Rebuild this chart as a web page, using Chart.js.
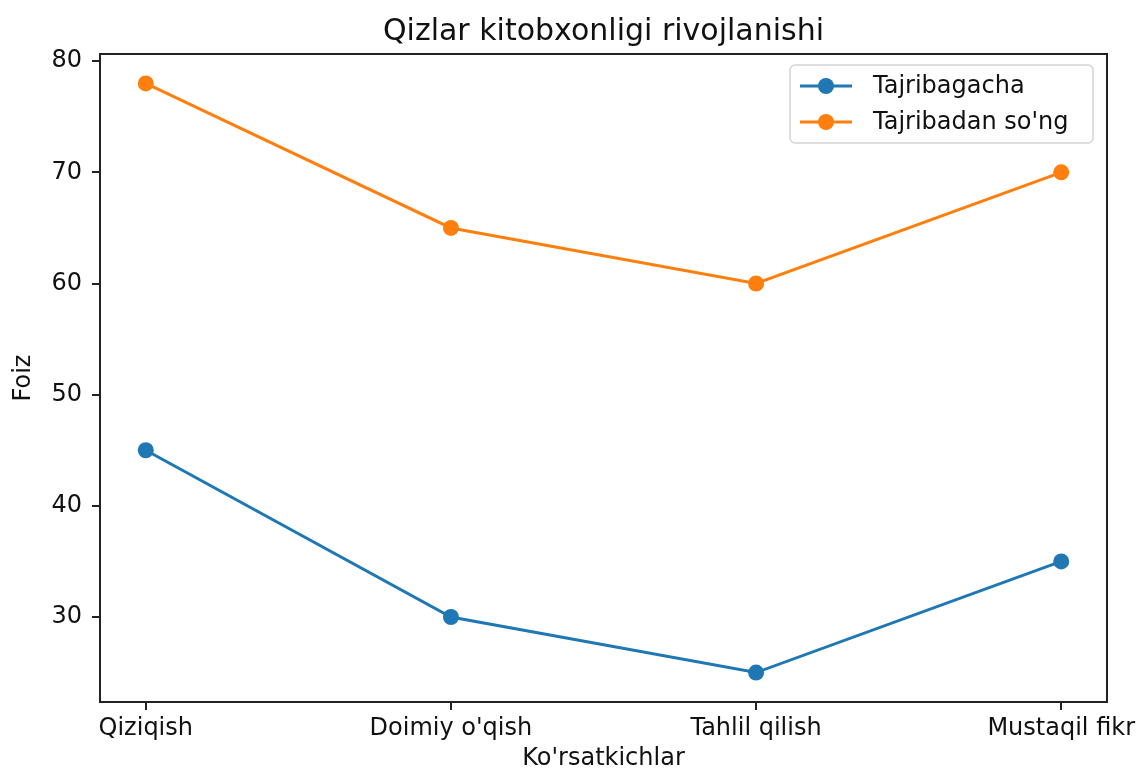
<!DOCTYPE html>
<html>
<head>
<meta charset="utf-8">
<script src="https://cdn.jsdelivr.net/npm/chart.js@4/dist/chart.umd.min.js"></script>
<style>
  html, body { margin: 0; padding: 0; background: #fff; }
  #wrap { width: 1143px; height: 769px; }
</style>
</head>
<body>
<div id="wrap"><canvas id="chart" width="1143" height="769"></canvas></div>
<script>
const categories = ["Qiziqish", "Doimiy o'qish", "Tahlil qilish", "Mustaqil fikr"];
const beforeValues = [45, 30, 25, 35];
const afterValues = [78, 65, 60, 70];
const yTicks = [30, 40, 50, 60, 70, 80];
const seriesNames = ["Tajribagacha", "Tajribadan so'ng"];
const seriesColors = ["#1f77b4", "#ff7f0e"];
const chartTitle = "Qizlar kitobxonligi rivojlanishi";

const fontFamily = "'DejaVu Sans', sans-serif";
const textColor = "#111";

const toPoints = (values) => values.map((y, i) => ({ x: i, y }));

// title centred over the plot area, like matplotlib's ax.set_title
const plotTitlePlugin = {
  id: "plotTitle",
  afterDraw(chart) {
    const { ctx, chartArea: a } = chart;
    ctx.save();
    ctx.fillStyle = textColor;
    ctx.font = `30px ${fontFamily}`;
    ctx.textAlign = "center";
    ctx.textBaseline = "alphabetic";
    ctx.fillText(chartTitle, (a.left + a.right) / 2, a.top - 14);
    ctx.restore();
  },
};

// draws the black frame round the plot area (all four spines)
const framePlugin = {
  id: "frame",
  afterDatasetsDraw(chart) {
    const { ctx, chartArea: a } = chart;
    ctx.save();
    ctx.strokeStyle = "#222";
    ctx.lineWidth = 2;
    ctx.strokeRect(a.left, a.top, a.right - a.left, a.bottom - a.top);
    ctx.restore();
  },
};

// matplotlib-like legend box inside the upper right corner
const insideLegendPlugin = {
  id: "insideLegend",
  afterDraw(chart) {
    const { ctx, chartArea: a } = chart;
    const boxW = 303;
    const boxH = 78;
    const x0 = a.right - 14 - boxW;
    const y0 = a.top + 11;
    ctx.save();
    ctx.beginPath();
    ctx.roundRect(x0, y0, boxW, boxH, 5);
    ctx.fillStyle = "rgba(255,255,255,0.85)";
    ctx.fill();
    ctx.strokeStyle = "#d4d4d4";
    ctx.lineWidth = 1.5;
    ctx.stroke();
    chart.data.datasets.forEach((ds, i) => {
      const y = y0 + 21 + i * 36;
      ctx.strokeStyle = ds.borderColor;
      ctx.lineWidth = 3;
      ctx.beginPath();
      ctx.moveTo(x0 + 10, y);
      ctx.lineTo(x0 + 62, y);
      ctx.stroke();
      ctx.fillStyle = ds.borderColor;
      ctx.beginPath();
      ctx.arc(x0 + 36, y, 8, 0, Math.PI * 2);
      ctx.fill();
      ctx.fillStyle = textColor;
      ctx.font = `24px ${fontFamily}`;
      ctx.textBaseline = "middle";
      ctx.textAlign = "left";
      ctx.fillText(ds.label, x0 + 83, y + 1);
    });
    ctx.restore();
  },
};

const datasets = [beforeValues, afterValues].map((values, i) => ({
  label: seriesNames[i],
  data: toPoints(values),
  borderColor: seriesColors[i],
  backgroundColor: seriesColors[i],
  borderWidth: 3,
  pointRadius: 8,
  pointHoverRadius: 8,
  pointBorderWidth: 0,
  tension: 0,
  fill: false,
}));

const chart = new Chart(document.getElementById("chart"), {
  type: "line",
  data: { datasets },
  plugins: [framePlugin, insideLegendPlugin, plotTitlePlugin],
  options: {
    responsive: false,
    animation: false,
    layout: { padding: { left: 0, right: 36, top: 54, bottom: 0 } },
    plugins: {
      legend: { display: false },
      tooltip: { enabled: false },
      title: { display: false },
    },
    scales: {
      x: {
        type: "linear",
        min: -0.15,
        max: 3.15,
        afterFit: (scale) => {
          scale.height = 67;
        },
        afterBuildTicks: (scale) => {
          scale.ticks = categories.map((c, i) => ({ value: i }));
        },
        ticks: {
          color: textColor,
          font: { family: fontFamily, size: 24 },
          padding: 4,
          maxRotation: 0,
          autoSkip: false,
          callback: (value) => categories[value] ?? "",
        },
        grid: {
          drawOnChartArea: false,
          drawTicks: true,
          tickLength: 8,
          color: "#222",
          lineWidth: 2,
        },
        border: { display: false },
        title: {
          display: true,
          text: "Ko'rsatkichlar",
          color: textColor,
          font: { family: fontFamily, size: 24 },
          padding: { top: 0, bottom: -4 },
        },
      },
      y: {
        min: 22.35,
        max: 80.65,
        afterFit: (scale) => {
          scale.width = 100;
        },
        afterBuildTicks: (scale) => {
          scale.ticks = yTicks.map((v) => ({ value: v }));
        },
        ticks: {
          color: textColor,
          font: { family: fontFamily, size: 24 },
          padding: 10,
        },
        grid: {
          drawOnChartArea: false,
          drawTicks: true,
          tickLength: 8,
          color: "#222",
          lineWidth: 2,
        },
        border: { display: false },
        title: {
          display: true,
          text: "Foiz",
          color: textColor,
          font: { family: fontFamily, size: 24 },
          padding: { top: 9, bottom: 0 },
        },
      },
    },
  },
});
</script>
</body>
</html>
